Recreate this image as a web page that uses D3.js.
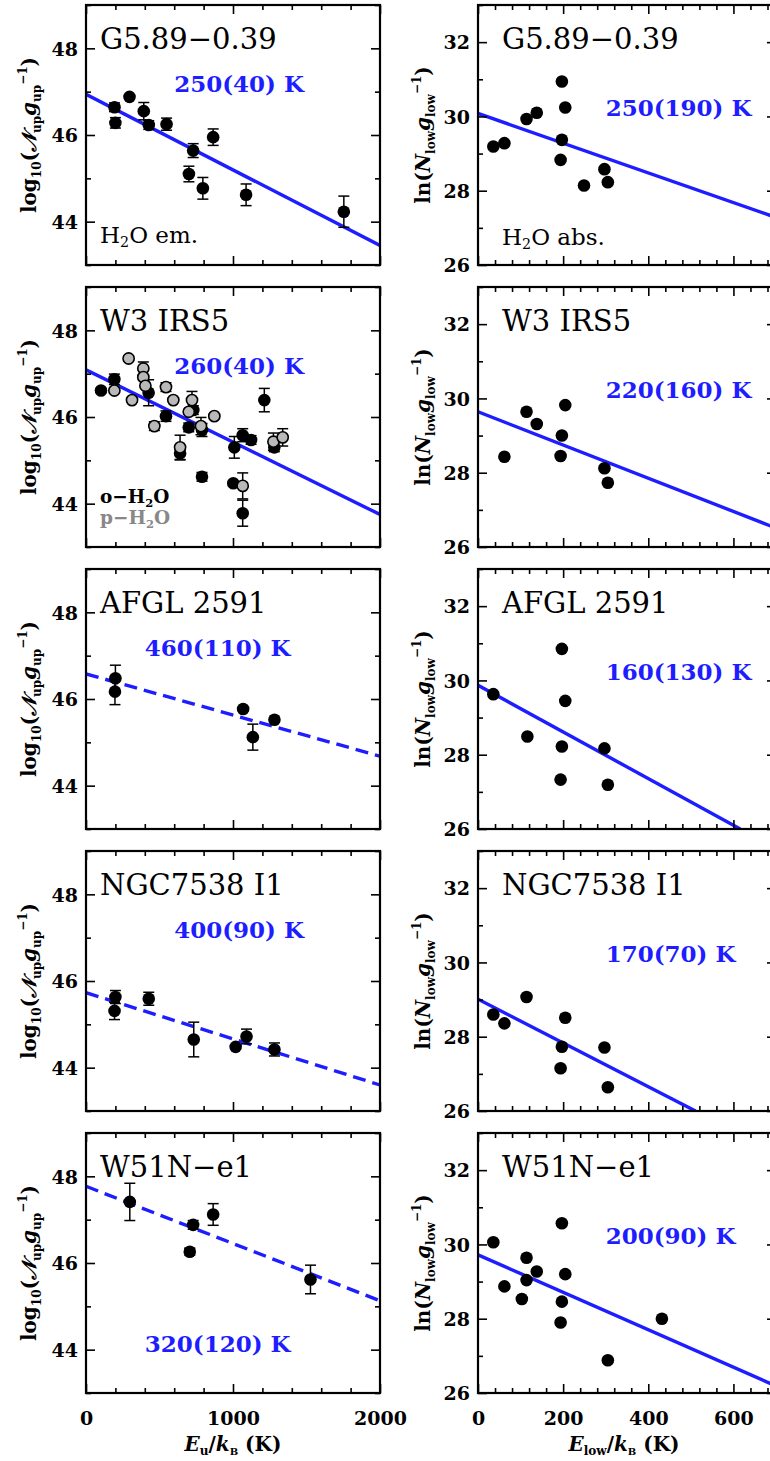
<!DOCTYPE html>
<html><head><meta charset="utf-8">
<script src="https://cdn.jsdelivr.net/npm/d3@7"></script>
<style>
html,body{margin:0;padding:0;background:#fff;}
svg{display:block;}
</style></head>
<body>
<svg id="chart" width="770" height="1461"></svg>
<script>
// ---------------- data ----------------
const sources = ["G5.89\u22120.39", "W3 IRS5", "AFGL 2591", "NGC7538 I1", "W51N\u2212e1"];
const emTemps = ["250(40) K", "260(40) K", "460(110) K", "400(90) K", "320(120) K"];
const absTemps = ["250(190) K", "220(160) K", "160(130) K", "170(70) K", "200(90) K"];

// emission: [E_u/k (K), log10(N g^-1), error]
const emG589 = [[194,46.64,0.1],[200,46.28,0.12],[296,46.88,0.05],[393,46.55,0.2],[427,46.23,0.1],[548,46.25,0.14],[700,45.1,0.18],[729,45.64,0.16],[795,44.77,0.25],[865,45.95,0.19],[1089,44.62,0.25],[1754,44.23,0.36]];
const emW3ortho = [[102,46.61,0.05],[193,46.87,0.12],[426,46.56,0.3],[544,46.02,0.12],[699,45.76,0.1],[730,46.16,0.1],[789,45.70,0.15],[640,45.16,0.15],[789,44.62,0.1],[1009,45.30,0.25],[1002,44.47,0.05],[1066,45.58,0.15],[1123,45.47,0.1],[1066,43.78,0.3],[1213,46.39,0.27],[1281,45.30,0.1]];
const emW3para = [[193,46.61,0.05],[290,47.35,0.05],[313,46.39,0.05],[390,47.12,0.15],[390,46.92,0.05],[404,46.72,0.05],[465,45.79,0.1],[544,46.69,0.1],[594,46.39,0.05],[721,46.39,0.2],[699,46.12,0.05],[640,45.30,0.28],[782,45.79,0.2],[873,46.02,0.05],[1066,44.41,0.3],[1275,45.43,0.2],[1338,45.53,0.2]];
const emAFGL = [[200,46.48,0.3],[197,46.17,0.3],[1069,45.77,0.05],[1135,45.12,0.3],[1282,45.52,0.05]];
const emNGC = [[200,45.63,0.15],[194,45.31,0.2],[427,45.59,0.15],[733,44.65,0.4],[1018,44.48,0.05],[1092,44.72,0.17],[1282,44.42,0.15]];
const emW51 = [[298,47.41,0.43],[706,46.26,0.08],[729,46.88,0.1],[865,47.12,0.25],[1527,45.62,0.33]];

// absorption: [E_low/k (K), ln(N g^-1)]
const absG589 = [[36,29.19],[62,29.28],[114,29.93],[138,30.1],[197,30.94],[205,30.24],[197,29.37],[194,28.83],[249,28.14],[297,28.58],[305,28.23]];
const absW3 = [[62,28.43],[114,29.64],[138,29.31],[197,29.0],[194,28.45],[205,29.82],[297,28.12],[305,27.73]];
const absAFGL = [[36,29.63],[116,28.49],[197,30.85],[205,29.45],[197,28.22],[194,27.33],[297,28.17],[305,27.19]];
const absNGC = [[36,28.6],[62,28.36],[114,29.07],[205,28.51],[197,27.73],[194,27.15],[297,27.71],[305,26.64]];
const absW51 = [[36,30.06],[62,28.87],[103,28.53],[114,29.64],[114,29.04],[138,29.27],[197,30.57],[205,29.2],[197,28.46],[194,27.9],[305,26.88],[432,28.0]];

// fitted lines (end points)
const emFits = [[[0,46.94],[2000,43.45]],[[0,47.09],[2000,43.75]],[[0,46.58],[2000,44.68]],[[0,45.73],[2000,43.6]],[[0,47.77],[2000,45.13]]];
const emDashed = [false,false,true,true,true];
const absFits = [[[0,30.08],[700,27.28]],[[0,29.64],[700,26.51]],[[0,29.87],[616,26]],[[0,29.01],[511,26]],[[0,29.72],[700,26.19]]];

// axes
const emXDomain = [0,2000], emYDomain = [43,49];
const absXDomain = [0,700], absYDomain = [26,33];
const emXMajor = [0,1000,2000], emXMinor = [200,400,600,800,1200,1400,1600,1800];
const emYMajor = [44,46,48], emYMinor = [43,45,47,49];
const absXMajor = [0,200,400,600], absXMinor = [40,80,120,160,240,280,320,360,440,480,520,560,640,680];
const absYMajor = [26,28,30,32], absYMinor = [27,29,31,33];

// ---------------- drawing ----------------
const emData = [[emG589],[emW3ortho,emW3para],[emAFGL],[emNGC],[emW51]];
const absData = [absG589,absW3,absAFGL,absNGC,absW51];
// temperature label anchors (data coordinates)
const emLabelAt = [[600,47],[600,47],[400,47],[600,47],[400,43.95]];
const absLabelAt = [[300,30],[300,30],[300,30],[300,30],[300,30]];

const svg = d3.select("#chart");
const BLUE = "#1d1dff";
const TICKFONT = "'DejaVu Serif', serif";
const pitch = 282, ph = 260;
const L = [86, 380], R = [478, 776];

function drawAxes(g, x, y, xMaj, xMin, yMaj, yMin, showX, top, left, right) {
  const bottom = top + ph;
  const mk = (axis, tr, cls) => {
    const a = g.append("g").attr("transform", tr).attr("class", cls).call(axis);
    a.select(".domain").remove();
    a.selectAll(".tick line").attr("stroke", "#000").attr("stroke-width", 1.6);
    return a;
  };
  const bMaj = mk(d3.axisBottom(x).tickValues(xMaj).tickSize(-9).tickPadding(0).tickFormat(showX ? d3.format("d") : () => ""), `translate(0,${bottom})`, "xb");
  bMaj.selectAll("text").attr("y", 32).attr("dy", 0).attr("font-family", TICKFONT).attr("font-weight", "bold").attr("font-size", 19).attr("fill", "#000");
  mk(d3.axisBottom(x).tickValues(xMin).tickSize(-5).tickFormat(() => ""), `translate(0,${bottom})`, "xbm");
  mk(d3.axisTop(x).tickValues(xMaj).tickSize(-9).tickFormat(() => ""), `translate(0,${top})`, "xt");
  mk(d3.axisTop(x).tickValues(xMin).tickSize(-5).tickFormat(() => ""), `translate(0,${top})`, "xtm");
  const lMaj = mk(d3.axisLeft(y).tickValues(yMaj).tickSize(-9).tickFormat(d3.format("d")), `translate(${left},0)`, "yl");
  lMaj.selectAll("text").attr("x", -8).attr("dy", "0.36em").attr("font-family", TICKFONT).attr("font-weight", "bold").attr("font-size", 19).attr("fill", "#000");
  mk(d3.axisLeft(y).tickValues(yMin).tickSize(-5).tickFormat(() => ""), `translate(${left},0)`, "ylm");
  mk(d3.axisRight(y).tickValues(yMaj).tickSize(-9).tickFormat(() => ""), `translate(${right},0)`, "yr");
  mk(d3.axisRight(y).tickValues(yMin).tickSize(-5).tickFormat(() => ""), `translate(${right},0)`, "yrm");
  g.append("rect").attr("x", left).attr("y", top).attr("width", right - left).attr("height", ph)
    .attr("fill", "none").attr("stroke", "#000").attr("stroke-width", 2.2);
}

function drawPoints(g, x, y, pts, fill, withErr) {
  if (withErr) {
    const eg = g.append("g").attr("stroke", "#000").attr("stroke-width", 1.5).attr("fill", "none");
    pts.forEach(d => {
      const cx = x(d[0]);
      const y1 = y(d[1] + d[2]), y2 = y(d[1] - d[2]);
      eg.append("line").attr("x1", cx).attr("x2", cx).attr("y1", y1).attr("y2", y2);
      eg.append("line").attr("x1", cx - 5.5).attr("x2", cx + 5.5).attr("y1", y1).attr("y2", y1);
      eg.append("line").attr("x1", cx - 5.5).attr("x2", cx + 5.5).attr("y1", y2).attr("y2", y2);
    });
  }
  g.append("g").selectAll("circle").data(pts).join("circle")
    .attr("cx", d => x(d[0])).attr("cy", d => y(d[1]))
    .attr("r", fill === "#000" ? 6.3 : 5.6)
    .attr("fill", fill)
    .attr("stroke", "#000").attr("stroke-width", fill === "#000" ? 0 : 1.6);
}

function yLabelEm(g, cx, cy) {
  const t = g.append("text").attr("transform", `translate(${cx},${cy}) rotate(-90)`)
    .attr("text-anchor", "middle").attr("font-family", TICKFONT).attr("font-weight", "bold").attr("font-size", 20).attr("fill", "#000");
  t.append("tspan").text("log");
  t.append("tspan").attr("dy", 5).attr("font-size", 12).text("10");
  t.append("tspan").attr("dy", -5).text("(");
  t.append("tspan").attr("font-style", "italic").text("\uD835\uDCA9");
  t.append("tspan").attr("dy", 5).attr("font-size", 12).text("up");
  t.append("tspan").attr("dy", -5).attr("font-style", "italic").text("g");
  t.append("tspan").attr("dy", 5).attr("font-size", 12).text("up");
  t.append("tspan").attr("dy", -14).attr("font-size", 12).text("\u22121");
  t.append("tspan").attr("dy", 9).text(")");
}
function yLabelAbs(g, cx, cy) {
  const t = g.append("text").attr("transform", `translate(${cx},${cy}) rotate(-90)`)
    .attr("text-anchor", "middle").attr("font-family", TICKFONT).attr("font-weight", "bold").attr("font-size", 20).attr("fill", "#000");
  t.append("tspan").text("ln(");
  t.append("tspan").attr("font-style", "italic").text("N");
  t.append("tspan").attr("dy", 5).attr("font-size", 12).text("low");
  t.append("tspan").attr("dy", -5).attr("font-style", "italic").text("g");
  t.append("tspan").attr("dy", 5).attr("font-size", 12).text("low");
  t.append("tspan").attr("dy", -14).attr("font-size", 12).text("\u22121");
  t.append("tspan").attr("dy", 9).text(")");
}
function h2oText(g, x, y, pre, post, size, fill, weight) {
  const t = g.append("text").attr("x", x).attr("y", y).attr("font-family", "'DejaVu Serif', serif")
    .attr("font-size", size).attr("fill", fill).attr("font-weight", weight);
  t.append("tspan").text(pre + "H");
  t.append("tspan").attr("dy", 4).attr("font-size", size * 0.62).text("2");
  t.append("tspan").attr("dy", -4).text("O" + post);
}

const line = d3.line();

for (let i = 0; i < 5; i++) {
  const top = 5 + i * pitch, bottom = top + ph;
  const last = i === 4;

  // ---- emission panel (left) ----
  const xE = d3.scaleLinear().domain(emXDomain).range(L);
  const yE = d3.scaleLinear().domain(emYDomain).range([bottom, top]);
  const gE = svg.append("g");
  const cidE = "clipE" + i;
  svg.append("clipPath").attr("id", cidE).append("rect").attr("x", L[0]).attr("y", top).attr("width", L[1] - L[0]).attr("height", ph);
  gE.append("path").attr("clip-path", `url(#${cidE})`)
    .attr("d", line(emFits[i].map(d => [xE(d[0]), yE(d[1])])))
    .attr("stroke", BLUE).attr("stroke-width", 3.4).attr("fill", "none")
    .attr("stroke-dasharray", emDashed[i] ? "13,7" : null);
  emData[i].forEach((pts, k) => drawPoints(gE, xE, yE, pts, k === 0 ? "#000" : "#b9b9b9", true));
  drawAxes(gE, xE, yE, emXMajor, emXMinor, emYMajor, emYMinor, last, top, L[0], L[1]);
  gE.append("text").attr("x", L[0] + 14).attr("y", top + 43.5).attr("font-family", "'DejaVu Serif', serif")
    .attr("font-size", 29).attr("fill", "#000").text(sources[i]);
  gE.append("text").attr("x", xE(emLabelAt[i][0])).attr("y", yE(emLabelAt[i][1]))
    .attr("font-family", "'DejaVu Serif', serif").attr("font-weight", "bold").attr("font-size", 23)
    .attr("fill", BLUE).text(emTemps[i]);
  yLabelEm(gE, 36, top + ph / 2);

  // ---- absorption panel (right) ----
  const xA = d3.scaleLinear().domain(absXDomain).range(R);
  const yA = d3.scaleLinear().domain(absYDomain).range([bottom, top]);
  const gA = svg.append("g");
  const cidA = "clipA" + i;
  svg.append("clipPath").attr("id", cidA).append("rect").attr("x", R[0]).attr("y", top).attr("width", R[1] - R[0]).attr("height", ph);
  gA.append("path").attr("clip-path", `url(#${cidA})`)
    .attr("d", line(absFits[i].map(d => [xA(d[0]), yA(d[1])])))
    .attr("stroke", BLUE).attr("stroke-width", 3.4).attr("fill", "none");
  drawPoints(gA, xA, yA, absData[i], "#000", false);
  drawAxes(gA, xA, yA, absXMajor, absXMinor, absYMajor, absYMinor, last, top, R[0], R[1]);
  gA.append("text").attr("x", R[0] + 24).attr("y", top + 43.5).attr("font-family", "'DejaVu Serif', serif")
    .attr("font-size", 29).attr("fill", "#000").text(sources[i]);
  gA.append("text").attr("x", xA(absLabelAt[i][0])).attr("y", yA(absLabelAt[i][1]))
    .attr("font-family", "'DejaVu Serif', serif").attr("font-weight", "bold").attr("font-size", 23)
    .attr("fill", BLUE).text(absTemps[i]);
  yLabelAbs(gA, 430, top + ph / 2);

  if (i === 0) {
    h2oText(gE, L[0] + 14, top + 238, "", " em.", 23, "#000", "normal");
    h2oText(gA, R[0] + 24, top + 240, "", " abs.", 23, "#000", "normal");
  }
  if (i === 1) {
    h2oText(gE, L[0] + 14, top + 215.5, "o\u2212", "", 18.5, "#000", "bold");
    h2oText(gE, L[0] + 14, top + 236.5, "p\u2212", "", 18.5, "#888", "bold");
  }
}

// x axis titles
function xTitle(cx, sub) {
  const t = svg.append("text").attr("x", cx).attr("y", 1451).attr("text-anchor", "middle")
    .attr("font-family", TICKFONT).attr("font-weight", "bold").attr("font-size", 20).attr("fill", "#000");
  t.append("tspan").attr("font-style", "italic").text("E");
  t.append("tspan").attr("dy", 4).attr("font-size", 12).text(sub);
  t.append("tspan").attr("dy", -4).text("/");
  t.append("tspan").attr("font-style", "italic").text("k");
  t.append("tspan").attr("dy", 4).attr("font-size", 10).text("B");
  t.append("tspan").attr("dy", -4).text(" (K)");
}
xTitle(233, "u");
xTitle(624, "low");
</script>
</body></html>
